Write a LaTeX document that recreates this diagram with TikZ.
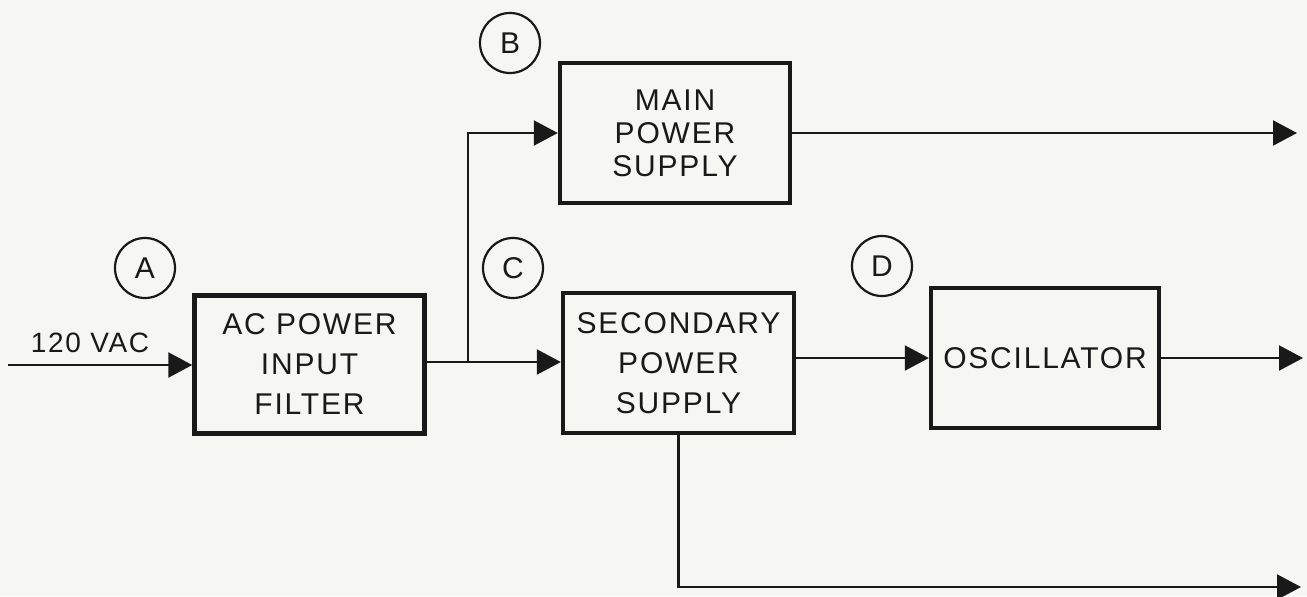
\documentclass[tikz,border=0pt]{standalone}
\usepackage{fontspec}
\setmainfont{Liberation Sans}[LetterSpace=6]
\usetikzlibrary{arrows.meta}
\definecolor{paper}{RGB}{246,246,243}
\definecolor{ink}{RGB}{25,25,25}
\begin{document}
\begin{tikzpicture}[x=0.5pt,y=-0.5pt,
  box/.style={draw=ink, line width=2.2pt, inner sep=0pt, align=center, text=ink,
              font=\fontsize{15}{20}\selectfont},
  tag/.style={draw=ink, line width=1.1pt, circle, minimum size=30pt, inner sep=0pt,
              text=ink, font=\fontsize{15}{18}\selectfont},
  wire/.style={draw=ink, line width=1.1pt},
  arr/.style={wire, -{Triangle[length=12pt,width=12.5pt]}}]
\fill[paper] (0,0) rectangle (1307,596);
\useasboundingbox (0,0) rectangle (1307,596);

% blocks
\node[box, minimum width=115pt, minimum height=69pt] (ac) at (309.5,364.5) {AC POWER\\INPUT\\FILTER};
\node[box, minimum width=115pt, minimum height=70pt, font=\fontsize{15}{16.5}\selectfont] (main) at (675,133) {MAIN\\POWER\\SUPPLY};
\node[box, minimum width=115.5pt, minimum height=70pt] (sec) at (678.5,363) {SECONDARY\\POWER\\SUPPLY};
\node[box, minimum width=114pt, minimum height=70pt] (osc) at (1045,358) {OSCILLATOR};

% tags
\node[tag] (ta) at (145,268) {A};
\node[tag] (tb) at (510,43) {B};
\node[tag] (tc) at (513,268) {C};
\node[tag] (td) at (882,266) {D};

% input
\node[text=ink, font=\fontsize{14}{16}\selectfont] (vac) at (90,343) {120 VAC};
\coordinate (in) at (8,365);
\draw[arr] (in) -- (ac.west |- in);

% branches
\coordinate (j) at (468,362);
\draw[wire] (ac.east |- j) -- (j);
\draw[arr] (j) -- (sec.west |- j);
\draw[arr] (j) |- (main.west);

% outputs
\coordinate (mo) at (1297,133);
\draw[arr] (main.east) -- (mo);
\draw[arr] (sec.east |- osc.west) -- (osc.west);
\coordinate (oo) at (1303,357);
\draw[arr] (osc.east) -- (oo |- osc.east);
\coordinate (so) at (1301,587);
\draw[arr] (sec.south) |- (so);
\end{tikzpicture}
\end{document}
